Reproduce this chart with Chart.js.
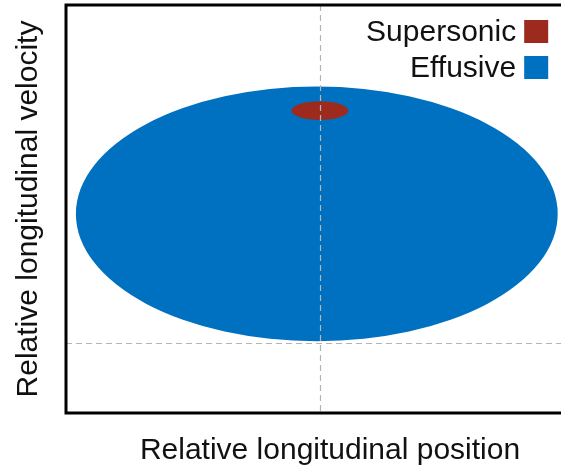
<!DOCTYPE html>
<html>
<head>
<meta charset="utf-8">
<script src="https://cdn.jsdelivr.net/npm/chart.js@4.4.1/dist/chart.umd.min.js"></script>
<style>
  html, body { margin: 0; padding: 0; background: #fff; overflow: hidden; }
  #wrap { width: 600px; height: 470px; }
</style>
</head>
<body>
<div id="wrap"><canvas id="chart" width="600" height="470"></canvas></div>
<script>
// Ellipse data (relative units)
const seriesLabels = ['Supersonic', 'Effusive'];
const seriesColors = ['#9c2b1e', '#0070c0'];
const centerX = [0, -0.12];
const centerY = [7.41, 4.88];
const radiusX = [1.12, 9.49];
const radiusY = [0.23, 3.12];

// Dashed reference lines
const refX = [0];
const refY = [1.72];

// Axis ranges
const xRange = [-10, 10.8];
const yRange = [0, 10];

const fontFamily = '"Liberation Sans", Arial, sans-serif';

// Draws the filled ellipses, dashed lines, frame and legend
const ellipsePlugin = {
  id: 'ellipses',
  beforeDatasetsDraw(chart) {
    const ctx = chart.ctx;
    const xs = chart.scales.x;
    const ys = chart.scales.y;
    // big one first so the small one sits on top
    for (let i = seriesLabels.length - 1; i >= 0; i--) {
      const cx = xs.getPixelForValue(centerX[i]);
      const cy = ys.getPixelForValue(centerY[i]);
      const rx = Math.abs(xs.getPixelForValue(centerX[i] + radiusX[i]) - cx);
      const ry = Math.abs(ys.getPixelForValue(centerY[i] + radiusY[i]) - cy);
      ctx.save();
      ctx.fillStyle = seriesColors[i];
      ctx.beginPath();
      ctx.ellipse(cx, cy, rx, ry, 0, 0, Math.PI * 2);
      ctx.fill();
      ctx.restore();
    }
  },
  afterDatasetsDraw(chart) {
    const ctx = chart.ctx;
    const area = chart.chartArea;
    const xs = chart.scales.x;
    const ys = chart.scales.y;

    ctx.save();
    ctx.strokeStyle = '#b4b4b4';
    ctx.lineWidth = 1.2;
    ctx.setLineDash([6, 4]);
    refX.forEach(v => {
      const px = Math.round(xs.getPixelForValue(v)) + 0.5;
      ctx.beginPath();
      ctx.moveTo(px, area.top);
      ctx.lineTo(px, area.bottom);
      ctx.stroke();
    });
    refY.forEach(v => {
      const py = Math.round(ys.getPixelForValue(v)) + 0.5;
      ctx.beginPath();
      ctx.moveTo(area.left, py);
      ctx.lineTo(area.right, py);
      ctx.stroke();
    });
    ctx.restore();

    // frame
    ctx.save();
    ctx.strokeStyle = '#000';
    ctx.lineWidth = 3;
    ctx.strokeRect(area.left, area.top, area.right - area.left, area.bottom - area.top);
    ctx.restore();

    // legend, text left of the swatch
    ctx.save();
    ctx.font = '30px ' + fontFamily;
    ctx.textAlign = 'right';
    ctx.textBaseline = 'middle';
    seriesLabels.forEach((label, i) => {
      const boxX = xs.getPixelForValue(8.05);
      const boxY = area.top + 15 + i * 36;
      ctx.fillStyle = seriesColors[i];
      ctx.fillRect(boxX, boxY, 24, 23);
      ctx.fillStyle = '#111';
      ctx.fillText(label, boxX - 8, boxY + 13);
    });
    ctx.restore();
  }
};

const chart = new Chart(document.getElementById('chart'), {
  type: 'scatter',
  data: {
    datasets: seriesLabels.map((label, i) => ({
      label: label,
      data: [{ x: centerX[i], y: centerY[i] }],
      pointRadius: 0,
      backgroundColor: seriesColors[i],
      borderColor: seriesColors[i]
    }))
  },
  options: {
    responsive: false,
    animation: false,
    events: [],
    layout: { padding: { top: 5, left: 11, right: 6, bottom: 0 } },
    plugins: {
      legend: { display: false },
      tooltip: { enabled: false }
    },
    scales: {
      x: {
        min: xRange[0], max: xRange[1],
        grid: { display: false },
        border: { display: false },
        ticks: { display: false },
        title: {
          display: true,
          text: 'Relative longitudinal position',
          color: '#111',
          font: { family: fontFamily, size: 30 },
          padding: { top: 12, bottom: 1 }
        }
      },
      y: {
        min: yRange[0], max: yRange[1],
        grid: { display: false },
        border: { display: false },
        ticks: { display: false },
        title: {
          display: true,
          text: 'Relative longitudinal velocity',
          color: '#111',
          font: { family: fontFamily, size: 30 },
          padding: { top: 0, bottom: 11 }
        }
      }
    }
  },
  plugins: [ellipsePlugin]
});
</script>
</body>
</html>
